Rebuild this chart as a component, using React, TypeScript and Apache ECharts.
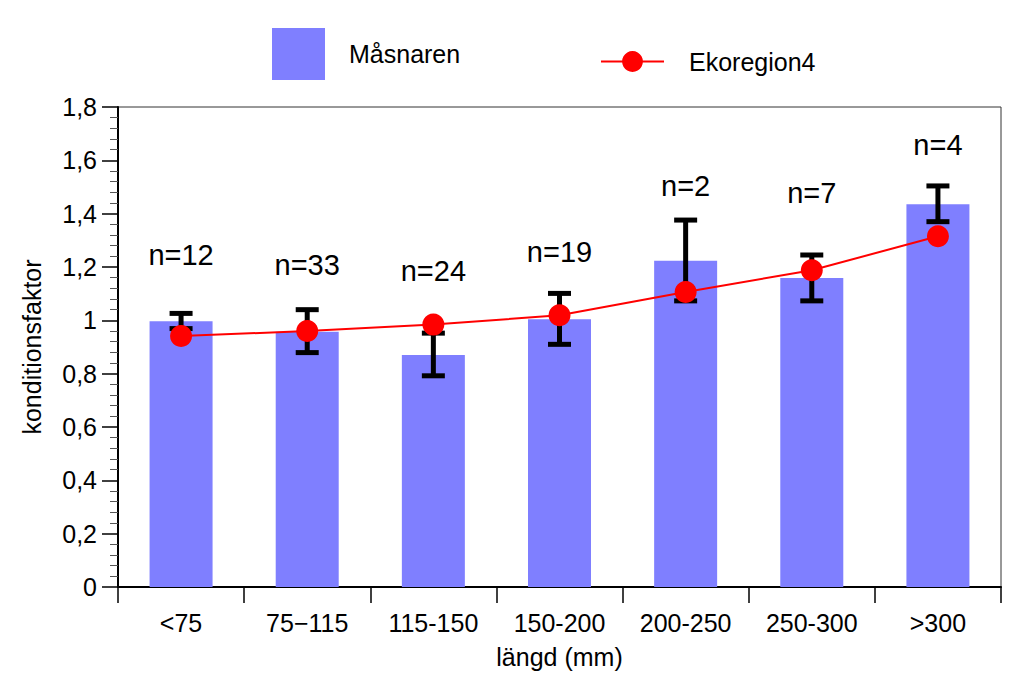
import React, { useEffect, useRef } from "react";
import * as echarts from "echarts";

const categories = ["<75", "75\u2212115", "115-150", "150-200", "200-250", "250-300", ">300"];
const masnaren = [0.997, 0.957, 0.87, 1.004, 1.223, 1.159, 1.435];
const errLow = [0.969, 0.879, 0.792, 0.91, 1.073, 1.073, 1.37];
const errHigh = [1.026, 1.04, 0.952, 1.101, 1.376, 1.245, 1.504];
const ekoregion4 = [0.941, 0.96, 0.984, 1.019, 1.106, 1.188, 1.315];
const nLabels = ["n=12", "n=33", "n=24", "n=19", "n=2", "n=7", "n=4"];
const nLabelY = [1.244, 1.207, 1.184, 1.256, 1.505, 1.477, 1.658];
const yTicks = { min: 0, max: 1.8, interval: 0.2 };

const FONT = "'Liberation Sans', Arial, Helvetica, sans-serif";

export default function App() {
  const ref = useRef<HTMLDivElement>(null);
  useEffect(() => {
    if (!ref.current) return;
    const chart = echarts.init(ref.current, null, { renderer: "svg" });
    const errData = categories.map((_, i) => [i, errLow[i], errHigh[i]]);
    const labelData = categories.map((c, i) => ({ value: [i, nLabelY[i]], name: nLabels[i] }));
    chart.setOption({
      animation: false,
      backgroundColor: "#fff",
      textStyle: { fontFamily: FONT },
      grid: {
        left: 118,
        right: 23,
        top: 107,
        bottom: 98,
        show: true,
        borderColor: "#333",
        borderWidth: 1,
      },
      legend: [
        {
          data: [{ name: "Måsnaren", icon: "rect" }],
          left: 267,
          top: 23,
          itemWidth: 53,
          itemHeight: 52,
          selectedMode: false,
          itemStyle: { borderRadius: 0 },
          textStyle: { fontSize: 25, color: "#000", fontFamily: FONT, padding: [0, 0, 0, 19] },
        },
        {
          data: ["Ekoregion4"],
          left: 595,
          top: 44,
          itemWidth: 63,
          itemHeight: 26,
          selectedMode: false,
          textStyle: { fontSize: 25, color: "#000", fontFamily: FONT, padding: [0, 0, 0, 20] },
        },
      ],
      xAxis: {
        type: "category",
        data: categories,
        name: "längd (mm)",
        nameLocation: "middle",
        nameGap: 57,
        nameTextStyle: { fontSize: 25, color: "#000", fontFamily: FONT },
        axisLine: { lineStyle: { color: "#000", width: 2 } },
        axisTick: { show: true, length: 16, alignWithLabel: false, lineStyle: { color: "#000", width: 1.5 } },
        axisLabel: { fontSize: 25, color: "#000", margin: 23, fontFamily: FONT, interval: 0 },
        splitLine: { show: false },
      },
      yAxis: {
        type: "value",
        min: yTicks.min,
        max: yTicks.max,
        interval: yTicks.interval,
        name: "konditionsfaktor",
        nameLocation: "middle",
        nameGap: 74,
        nameRotate: 90,
        nameTextStyle: { fontSize: 25, color: "#000", fontFamily: FONT },
        axisLine: { show: true, lineStyle: { color: "#000", width: 2 } },
        axisTick: { show: true, length: 16, lineStyle: { color: "#000", width: 1.5 } },
        minorTick: { show: true, splitNumber: 5, length: 8, lineStyle: { color: "#555", width: 1 } },
        axisLabel: {
          fontSize: 25,
          color: "#000",
          margin: 21,
          fontFamily: FONT,
          formatter: (v: number) => String(Math.round(v * 10) / 10).replace(".", ","),
        },
        splitLine: { show: false },
      },
      series: [
        {
          name: "Måsnaren",
          type: "bar",
          data: masnaren,
          barWidth: 63,
          itemStyle: { color: "#7f7fff" },
          z: 2,
        },
        {
          name: "errors",
          type: "custom",
          data: errData,
          z: 3,
          renderItem: (params: any, api: any) => {
            const x = api.value(0);
            const lo = api.coord([x, api.value(1)]);
            const hi = api.coord([x, api.value(2)]);
            const half = 11.5;
            const style = { stroke: "#000", lineWidth: 5 };
            return {
              type: "group",
              children: [
                { type: "line", shape: { x1: lo[0], y1: lo[1], x2: hi[0], y2: hi[1] }, style },
                { type: "line", shape: { x1: hi[0] - half, y1: hi[1], x2: hi[0] + half, y2: hi[1] }, style },
                { type: "line", shape: { x1: lo[0] - half, y1: lo[1], x2: lo[0] + half, y2: lo[1] }, style },
              ],
            };
          },
        },
        {
          name: "Ekoregion4",
          type: "line",
          data: ekoregion4,
          symbol: "circle",
          symbolSize: 22,
          lineStyle: { color: "#ff0000", width: 2 },
          itemStyle: { color: "#ff0000" },
          z: 4,
        },
        {
          name: "nlabels",
          type: "scatter",
          data: labelData,
          symbolSize: 1,
          itemStyle: { color: "rgba(0,0,0,0)", opacity: 1 },
          label: {
            show: true,
            position: "inside",
            formatter: (p: any) => p.name,
            fontSize: 29,
            color: "#000",
            opacity: 1,
            textBorderWidth: 0,
            fontFamily: FONT,
          },
          z: 5,
        },
      ],
    });
    return () => chart.dispose();
  }, []);
  return (
    <div
      ref={ref}
      style={{ position: "absolute", left: 0, top: 0, width: 1024, height: 685 }}
    />
  );
}
